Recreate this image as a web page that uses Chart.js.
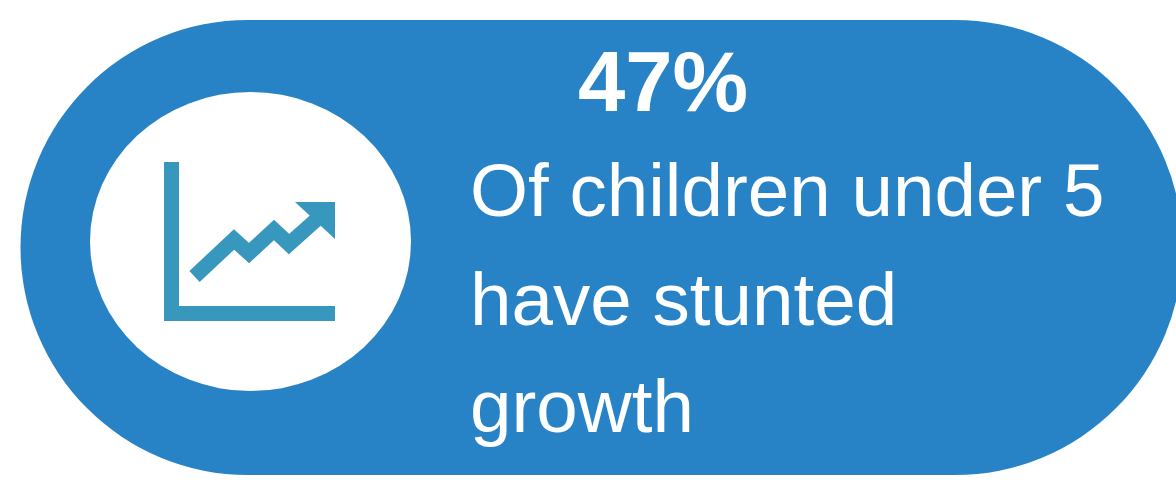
<!DOCTYPE html>
<html>
<head>
<meta charset="utf-8">
<style>
  html, body { margin: 0; padding: 0; background: #fff; }
  #wrap { width: 1176px; height: 480px; }
</style>
<script src="https://cdn.jsdelivr.net/npm/chart.js@4"></script>
</head>
<body>
<div id="wrap"><canvas id="chart"></canvas></div>
<script>
'use strict';

const headline = '47%';
const captionLines = ['Of children under 5', 'have stunted', 'growth'];

// in image pixels
const pillX = [248, 955];
const pillY = [247.5, 247.5];
const axisX = [171.5, 171.5, 335];
const axisY = [162, 313.5, 313.5];
const trendX = [194.5, 234, 249, 274, 289, 316];
const trendY = [276.5, 239.5, 253, 230, 244, 220];
const arrowX = [295, 335];
const arrowY = [202, 239];

const BLUE = '#2883C6';
const TEAL = '#3797BD';

const toPoints = (xs, ys) => xs.map((x, i) => ({ x, y: ys[i] }));

// white disc sits over the pill, text goes on last
const badgePlugin = {
    id: 'badge',
    afterDatasetDraw(chart, args) {
        if (args.index !== 0) return;
        const { ctx, scales } = chart;
        const cx = scales.x.getPixelForValue(250.5);
        const cy = scales.y.getPixelForValue(241.5);
        ctx.save();
        ctx.fillStyle = '#FFFFFF';
        ctx.beginPath();
        ctx.ellipse(cx, cy, 160.5, 149.5, 0, 0, Math.PI * 2);
        ctx.fill();
        ctx.restore();
    },
    afterDraw(chart) {
        const { ctx, scales } = chart;
        ctx.save();
        ctx.fillStyle = '#FFFFFF';
        ctx.textBaseline = 'alphabetic';
        ctx.textAlign = 'left';
        ctx.font = "bold 85px 'Liberation Sans', Arial, sans-serif";
        ctx.fillText(headline, scales.x.getPixelForValue(578), scales.y.getPixelForValue(111));
        ctx.font = "74.6px 'Liberation Sans', Arial, sans-serif";
        const baselines = [216, 325, 432];
        captionLines.forEach((line, i) => {
            ctx.fillText(line, scales.x.getPixelForValue(470), scales.y.getPixelForValue(baselines[i]));
        });
        ctx.restore();
    }
};

new Chart(document.getElementById('chart'), {
    type: 'line',
    data: {
        datasets: [
            {
                label: 'pill', data: toPoints(pillX, pillY), order: 4,
                borderColor: BLUE, borderWidth: 455, borderCapStyle: 'round',
                pointRadius: 0, clip: false,
            },
            {
                label: 'axis', data: toPoints(axisX, axisY), order: 3,
                borderColor: TEAL, borderWidth: 15, borderCapStyle: 'butt', borderJoinStyle: 'miter',
                pointRadius: 0, tension: 0,
            },
            {
                label: 'trend', data: toPoints(trendX, trendY), order: 2,
                borderColor: TEAL, borderWidth: 15, borderCapStyle: 'butt', borderJoinStyle: 'miter',
                pointRadius: 0, tension: 0,
            },
            {
                label: 'arrow', data: toPoints(arrowX, arrowY), order: 1,
                borderColor: TEAL, borderWidth: 0, backgroundColor: TEAL,
                fill: { target: { value: 202 } },
                pointRadius: 0, tension: 0,
            },
        ]
    },
    options: {
        responsive: true, maintainAspectRatio: false, animation: false,
        layout: { padding: 0 },
        plugins: { legend: { display: false }, tooltip: { enabled: false } },
        scales: {
            x: { type: 'linear', display: false, min: 0, max: 1176 },
            y: { type: 'linear', display: false, min: 0, max: 480, reverse: true },
        }
    },
    plugins: [badgePlugin]
});
</script>
</body>
</html>
